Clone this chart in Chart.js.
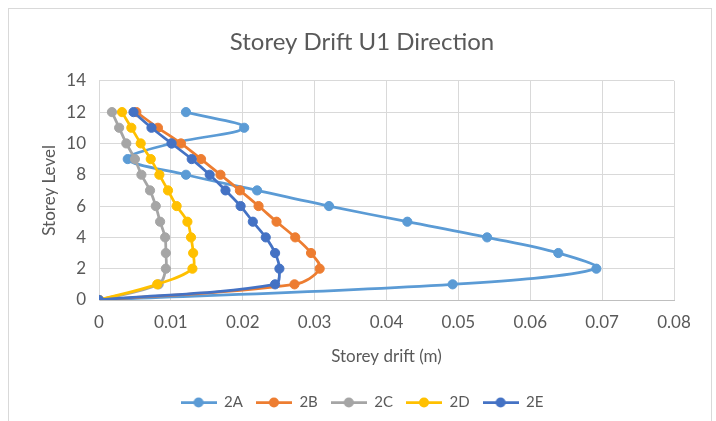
<!DOCTYPE html>
<html>
<head>
<meta charset="utf-8">
<script src="https://cdn.jsdelivr.net/npm/chart.js@4"></script>
<style>
  body { margin: 0; background: #fff; overflow: hidden; }
  #frame { position: absolute; left: 8px; top: 8px; width: 702px; height: 430px; border: 1px solid #d9d9d9; }
  #chart1 { position: absolute; left: 0; top: 0; }
</style>
</head>
<body>
<div id="frame"></div>
<canvas id="chart1" width="716" height="421"></canvas>
<script>
// storey levels (y) and drift per series (x, metres)
var levels = [0, 1, 2, 3, 4, 5, 6, 7, 8, 9, 10, 11, 12];
var drift2A = [0, 0.0492, 0.0692, 0.0639, 0.0540, 0.0429, 0.0320, 0.0220, 0.0121, 0.0040, 0.0101, 0.0202, 0.0121];
var drift2B = [0, 0.0272, 0.0307, 0.0295, 0.0273, 0.0247, 0.0222, 0.0196, 0.0169, 0.0142, 0.0114, 0.0082, 0.0052];
var drift2C = [0, 0.0083, 0.0093, 0.0093, 0.0092, 0.0085, 0.0079, 0.0071, 0.0059, 0.0050, 0.0038, 0.0028, 0.0018];
var drift2D = [0, 0.0081, 0.0130, 0.0131, 0.0128, 0.0123, 0.0108, 0.0096, 0.0084, 0.0072, 0.0058, 0.0045, 0.0032];
var drift2E = [0, 0.0245, 0.0251, 0.0245, 0.0232, 0.0214, 0.0197, 0.0176, 0.0154, 0.0129, 0.0101, 0.0073, 0.0048];
var seriesNames = ["2A", "2B", "2C", "2D", "2E"];
var seriesColors = ['#5B9BD5', '#ED7D31', '#A5A5A5', '#FFC000', '#4472C4'];

var font = "Lato";
var textColor = '#595959';
var gridColor = '#d9d9d9';

function points(drift){
    return drift.map(function(x, i){ return {x: x, y: levels[i]}; });
}

// small line + dot picture for the legend
function legendMark(color){
    var c = document.createElement('canvas');
    c.width = 36;
    c.height = 11;
    var ctx = c.getContext('2d');
    ctx.strokeStyle = color;
    ctx.lineWidth = 2.75;
    ctx.beginPath();
    ctx.moveTo(0, 5.5);
    ctx.lineTo(36, 5.5);
    ctx.stroke();
    ctx.fillStyle = color;
    ctx.beginPath();
    ctx.arc(18, 5.5, 5, 0, Math.PI * 2);
    ctx.fill();
    return c;
}

var allDrift = [drift2A, drift2B, drift2C, drift2D, drift2E];
var datasets = allDrift.map(function(d, i){
    return {
        label: seriesNames[i],
        data: points(d),
        showLine: true,
        tension: 0.35,
        borderColor: seriesColors[i],
        backgroundColor: seriesColors[i],
        borderWidth: 2.75,
        pointRadius: 4.6,
        pointBorderWidth: 1,
        pointBackgroundColor: seriesColors[i],
        pointBorderColor: seriesColors[i],
        order: allDrift.length - 1 - i   // 2E drawn on top, like the original
    };
});

var compctx = document.getElementById('chart1').getContext('2d');
var chart = new Chart(compctx, {
    type: 'scatter',
    data: { datasets: datasets },
    options: {
        responsive: false,
        animation: false,
        layout: { padding: { left: 14, right: 6, top: 10, bottom: 1 } },
        plugins: {
            title: {
                display: true,
                text: 'Storey Drift U1 Direction',
                color: textColor,
                font: { family: font, size: 24, weight: 'normal' },
                padding: { top: 18, bottom: 24 }
            },
            legend: {
                position: 'bottom',
                labels: {
                    color: textColor,
                    font: { family: font, size: 15 },
                    usePointStyle: true,
                    pointStyleWidth: 36,
                    padding: 13,
                    generateLabels: function(ch){
                        var items = Chart.defaults.plugins.legend.labels.generateLabels(ch);
                        items.sort(function(a, b){ return a.datasetIndex - b.datasetIndex; });
                        items.forEach(function(it){
                            it.pointStyle = legendMark(seriesColors[it.datasetIndex]);
                        });
                        return items;
                    }
                }
            },
            tooltip: { enabled: false }
        },
        scales: {
            x: {
                type: 'linear',
                min: 0,
                max: 0.08,
                ticks: { stepSize: 0.01, color: textColor, font: { family: font, size: 17 }, padding: 12 },
                grid: { color: gridColor, drawTicks: false },
                border: { color: '#bfbfbf' },
                title: {
                    display: true,
                    text: 'Storey drift (m)',
                    color: textColor,
                    font: { family: font, size: 17 },
                    padding: { top: 0, bottom: 15 }
                },
                afterFit: function(scale){ scale.height = 82; }
            },
            y: {
                type: 'linear',
                min: 0,
                max: 14,
                ticks: { stepSize: 2, color: textColor, font: { family: font, size: 17 }, padding: 13 },
                grid: { color: gridColor, drawTicks: false },
                border: { color: gridColor },
                title: {
                    display: true,
                    text: 'Storey Level',
                    color: textColor,
                    font: { family: font, size: 17 },
                    padding: { top: 25, bottom: 0 }
                },
                afterFit: function(scale){ scale.width = 85; }
            },
            // empty right-hand axis, only keeps room on the right of the plot
            yRight: {
                position: 'right',
                display: true,
                ticks: { display: false },
                grid: { display: false },
                border: { display: false },
                afterFit: function(scale){ scale.width = 36; }
            }
        }
    }
});
</script>
</body>
</html>
